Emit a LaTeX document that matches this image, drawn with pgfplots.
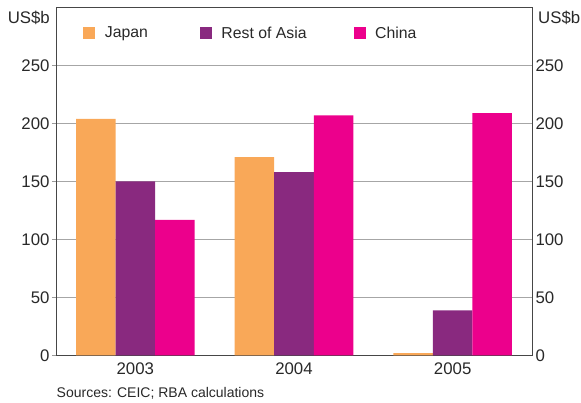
\documentclass[border=0pt]{standalone}
\usepackage{fontspec}
\setmainfont{Liberation Sans}
\usepackage{pgfplots}
\pgfplotsset{compat=1.18}

\definecolor{japan}{RGB}{249,168,88}
\definecolor{restasia}{RGB}{137,41,127}
\definecolor{china}{RGB}{236,0,140}
\definecolor{txt}{RGB}{40,40,40}
\definecolor{frame}{RGB}{70,70,70}

\pgfplotsset{
  rbabase/.style={
    at={(56pt,47.5pt)}, anchor=south west,
    scale only axis, width=476pt, height=348pt,
    xmin=-0.5, xmax=2.5, ymin=0, ymax=300,
    ytick={0,50,...,250},
    ytick style={draw=black!40, line width=0.6pt},
    major tick length=4pt,
    tick label style={font=\fontsize{16.8}{19}\selectfont, text=txt},
    /pgf/number format/assume math mode=true,
    axis line style={draw=frame, line width=0.8pt},
  }
}

\begin{document}
\begin{tikzpicture}[x=1pt,y=1pt]
\useasboundingbox (0,0) rectangle (581,403);

\begin{axis}[
  rbabase,
  ybar=0pt, bar width=0.249,
  ytick pos=left, ytick align=outside,
  yticklabel style={xshift=1pt},
  xtick={0,1,2}, xticklabels={2003,2004,2005},
  major x tick style={draw=none},
  extra x ticks={0.5,1.5}, extra x tick labels={},
  extra x tick style={major tick length=7pt, tick align=inside, major tick style={draw=frame, line width=0.6pt}},
  ymajorgrids, grid style={draw=black!35, line width=0.6pt},
  legend style={at={(0.0575,0.926)}, anchor=west, draw=none, fill=none,
    inner sep=0pt, outer sep=0pt,
    font=\fontsize{15.8}{18}\selectfont, text=txt,
    /tikz/column 1/.style={column sep=7.5pt},
    /tikz/column 2/.style={column sep=50pt},
    /tikz/column 3/.style={column sep=7.5pt},
    /tikz/column 4/.style={column sep=45pt},
    /tikz/column 5/.style={column sep=7.5pt}},
  legend columns=-1,
  legend image code/.code={\fill[#1,draw=none] (0pt,-6pt) rectangle (12pt,6pt);},
]
\addplot[fill=japan, draw=none] coordinates {(0,204) (1,171) (2,2)};
\addlegendentry{Japan}
\addplot[fill=restasia, draw=none] coordinates {(0,150) (1,158) (2,39)};
\addlegendentry{Rest of Asia}
\addplot[fill=china, draw=none] coordinates {(0,117) (1,207) (2,209)};
\addlegendentry{China}
\end{axis}

\begin{axis}[
  rbabase,
  hide x axis,
  axis y line*=right,
  y axis line style={draw=none},
  ytick style={draw=none},
  yticklabel pos=right,
]
\addplot[draw=none] coordinates {(0,0)};
\end{axis}

\node[anchor=east, text=txt, font=\fontsize{16.8}{19}\selectfont, inner sep=0pt] at (50,385) {US\$b};
\node[anchor=west, text=txt, font=\fontsize{16.8}{19}\selectfont, inner sep=0pt] at (538,385) {US\$b};
\node[anchor=base west, text=txt, font=\fontsize{14}{16}\selectfont, inner sep=0pt] at (56.5,5.3) {Sources: CEIC; RBA calculations};
\end{tikzpicture}
\end{document}
